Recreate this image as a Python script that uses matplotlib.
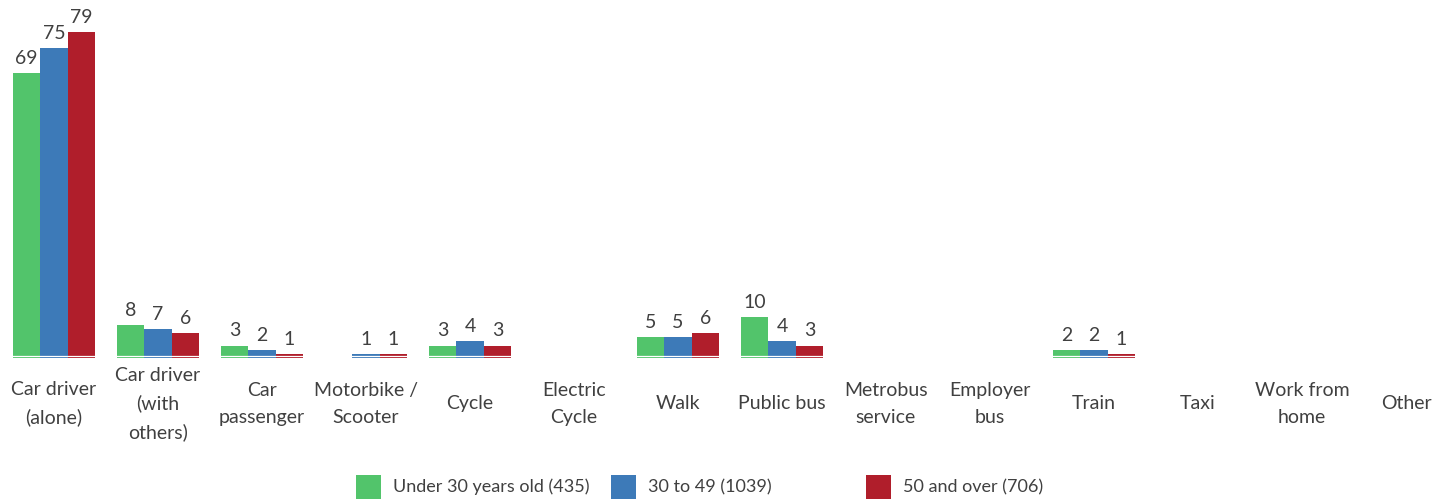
import numpy as np
import matplotlib
matplotlib.use("Agg")
import matplotlib.pyplot as plt
from matplotlib.patches import Rectangle

plt.rcParams['font.family'] = ['Lato', 'DejaVu Sans']

categories = ['Car driver\n(alone)', 'Car driver\n(with\nothers)', 'Car\npassenger',
              'Motorbike /\nScooter', 'Cycle', 'Electric\nCycle', 'Walk', 'Public bus',
              'Metrobus\nservice', 'Employer\nbus', 'Train', 'Taxi', 'Work from\nhome', 'Other']
under30 = [69, 8, 3, None, 3, None, 5, 10, None, None, 2, None, None, None]
age30_49 = [75, 7, 2, 1, 4, None, 5, 4, None, None, 2, None, None, None]
over50 = [79, 6, 1, 1, 3, None, 6, 3, None, None, 1, None, None, None]
series_names = ['Under 30 years old (435)', '30 to 49 (1039)', '50 and over (706)']
colors = ['#52c46b', '#3d7ab8', '#b01e2b']
text_col = '#404040'

W, H = 1447, 504
fig = plt.figure(figsize=(W / 100, H / 100), dpi=100)
# axes: category pitch 104 px, baseline at y=358 px from top
ax = fig.add_axes([2 / W, (H - 358) / H, 14 * 104 / W, 358 / H])

x = np.arange(len(categories))
bw = 0.262
offsets = [-0.265, 0, 0.265]
for vals, off, col in zip([under30, age30_49, over50], offsets, colors):
    v = np.array([np.nan if a is None else a for a in vals], dtype=float)
    ax.bar(x + off, np.nan_to_num(v), bw, color=col, linewidth=0)
    for xi, val in zip(x + off, v):
        if not np.isnan(val):
            ax.text(xi, val + 1.5, f'{int(val)}', ha='center', va='bottom',
                    fontsize=14, color=text_col)

# thin white line near the base of the bars
ax.axhline(0.45, color='white', lw=0.9)

ax.set_xlim(-0.5, len(categories) - 0.5)
ax.set_ylim(0, 86.7)
ax.axis('off')

for xi, lab in zip(x, categories):
    ax.text(xi, -11.1, lab, ha='center', va='center', fontsize=14,
            color=text_col, linespacing=1.72)

# legend
legend_x = [356, 611, 866]
for lx, name, col in zip(legend_x, series_names, colors):
    fig.add_artist(Rectangle((lx / W, (H - 499) / H), 25 / W, 24 / H,
                             transform=fig.transFigure, color=col, lw=0))
    fig.text((lx + 37) / W, (H - 487) / H, name, ha='left', va='center',
             fontsize=13, color=text_col)

fig.savefig('out.png', dpi=100)
